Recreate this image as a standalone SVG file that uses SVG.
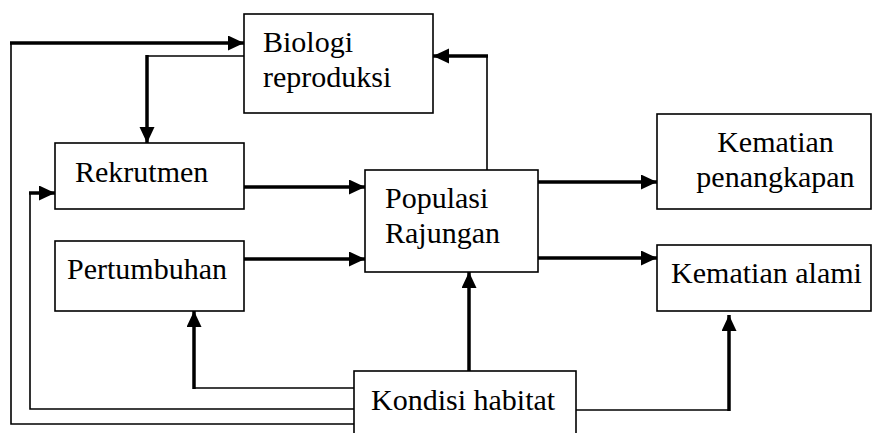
<svg xmlns="http://www.w3.org/2000/svg" width="872" height="433" viewBox="0 0 872 433">
<style>
.box{fill:#fff;stroke:#000;stroke-width:1.6}
svg g text.lbl{font-family:'Liberation Serif','Times New Roman',serif !important;font-size:30px !important;font-weight:normal !important;fill:#000}
.thin{fill:none;stroke:#000;stroke-width:1.6}
.thick{fill:none;stroke:#000;stroke-width:3.5}
</style>
<defs>
<marker id="ah" markerUnits="userSpaceOnUse" markerWidth="16" markerHeight="16" refX="16" refY="7.5" orient="auto">
<path d="M0,0 L16,7.5 L0,15 Z" fill="#000"/>
</marker>
</defs>
<rect width="872" height="433" fill="#fff"/>
<g id="connectors">
<polyline class="thin" points="354,424 11,424 11,43"/>
<line class="thick" x1="10" y1="43" x2="244" y2="43" marker-end="url(#ah)"/>
<polyline class="thin" points="354,409 30,409 30,193"/>
<line class="thick" x1="29" y1="193" x2="55" y2="193" marker-end="url(#ah)"/>
<line class="thin" x1="354" y1="388" x2="194" y2="388"/>
<line class="thick" x1="194" y1="389" x2="194" y2="311" marker-end="url(#ah)"/>
<line class="thick" x1="469" y1="371" x2="469" y2="272" marker-end="url(#ah)"/>
<line class="thin" x1="576" y1="410" x2="729" y2="410"/>
<line class="thick" x1="729" y1="411" x2="729" y2="315" marker-end="url(#ah)"/>
<line class="thin" x1="244" y1="56" x2="147" y2="56"/>
<line class="thick" x1="147" y1="55" x2="147" y2="143" marker-end="url(#ah)"/>
<line class="thin" x1="487" y1="170" x2="487" y2="56"/>
<line class="thick" x1="488" y1="56" x2="433" y2="56" marker-end="url(#ah)"/>
<line class="thick" x1="244" y1="187" x2="365" y2="187" marker-end="url(#ah)"/>
<line class="thick" x1="244" y1="259" x2="365" y2="259" marker-end="url(#ah)"/>
<line class="thick" x1="538" y1="182" x2="657" y2="182" marker-end="url(#ah)"/>
<line class="thick" x1="538" y1="258" x2="657" y2="258" marker-end="url(#ah)"/>
</g>
<g id="biologi">
<rect class="box" x="244" y="14" width="189" height="99"/>
<text class="lbl" x="263" y="52" font-family="Liberation Serif" style="font-family:'Liberation Serif',serif">Biologi</text>
<text class="lbl" x="263" y="87" font-family="Liberation Serif" style="font-family:'Liberation Serif',serif">reproduksi</text>
</g>
<g id="rekrutmen">
<rect class="box" x="55" y="143" width="189" height="66"/>
<text class="lbl" x="75" y="182" font-family="Liberation Serif" style="font-family:'Liberation Serif',serif">Rekrutmen</text>
</g>
<g id="pertumbuhan">
<rect class="box" x="55" y="241" width="189" height="70"/>
<text class="lbl" x="67" y="279" font-family="Liberation Serif" style="font-family:'Liberation Serif',serif">Pertumbuhan</text>
</g>
<g id="populasi">
<rect class="box" x="365" y="170" width="173" height="102"/>
<text class="lbl" x="385" y="208" font-family="Liberation Serif" style="font-family:'Liberation Serif',serif">Populasi</text>
<text class="lbl" x="385" y="243" font-family="Liberation Serif" style="font-family:'Liberation Serif',serif">Rajungan</text>
</g>
<g id="kematian-penangkapan">
<rect class="box" x="657" y="114" width="214" height="95"/>
<text class="lbl" x="775.5" y="152" text-anchor="middle" font-family="Liberation Serif" style="font-family:'Liberation Serif',serif">Kematian</text>
<text class="lbl" x="775.5" y="187" text-anchor="middle" font-family="Liberation Serif" style="font-family:'Liberation Serif',serif">penangkapan</text>
</g>
<g id="kematian-alami">
<rect class="box" x="657" y="245" width="214" height="66"/>
<text class="lbl" x="766.5" y="283" text-anchor="middle" font-family="Liberation Serif" style="font-family:'Liberation Serif',serif">Kematian alami</text>
</g>
<g id="kondisi">
<rect class="box" x="354" y="371" width="222" height="75"/>
<text class="lbl" x="371" y="410" font-family="Liberation Serif" style="font-family:'Liberation Serif',serif">Kondisi habitat</text>
</g>
</svg>
